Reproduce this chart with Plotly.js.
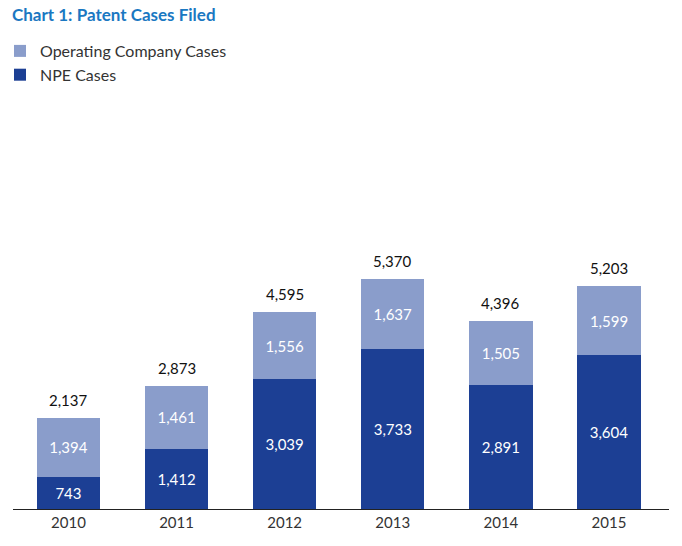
<!DOCTYPE html>
<html>
<head>
<meta charset="utf-8">
<script src="https://cdn.plot.ly/plotly-3.0.1.min.js"></script>
<style>html,body{margin:0;padding:0;background:#fff;}#chart{width:682px;height:546px;}</style>
</head>
<body>
<div id="chart"></div>
<script>
const years = ['2010', '2011', '2012', '2013', '2014', '2015'];
const npeCases = [743, 1412, 3039, 3733, 2891, 3604];
const operatingCases = [1394, 1461, 1556, 1637, 1505, 1599];
const totals = [2137, 2873, 4595, 5370, 4396, 5203];

const fmt = v => v.toLocaleString('en-US');
const FONT = 'Lato, "Open Sans", sans-serif';

const traces = [
  {
    type: 'bar', name: 'NPE Cases', x: years, y: npeCases,
    marker: {color: '#1c3f94'},
    text: npeCases.map(fmt), textposition: 'inside', insidetextanchor: 'middle', textangle: 0,
    textfont: {color: '#ffffff', size: 15, family: FONT},
    hoverinfo: 'skip', width: 0.585
  },
  {
    type: 'bar', name: 'Operating Company Cases', x: years, y: operatingCases,
    marker: {color: '#8a9dcb'},
    text: operatingCases.map(fmt), textposition: 'inside', insidetextanchor: 'middle', textangle: 0,
    textfont: {color: '#ffffff', size: 15, family: FONT},
    hoverinfo: 'skip', width: 0.585
  }
];

// category axis: annotation x given as category index
const annotations = totals.map((t, i) => ({
  x: i, y: t, xref: 'x', yref: 'y',
  text: fmt(t), showarrow: false, yanchor: 'bottom', yshift: 7,
  font: {size: 15, color: '#111111', family: FONT}
}));

const layout = {
  width: 682, height: 546,
  margin: {l: 0, r: 0, t: 38, b: 37},
  paper_bgcolor: '#ffffff', plot_bgcolor: '#ffffff',
  barmode: 'stack',
  showlegend: true,
  font: {family: FONT, color: '#222222'},
  title: {
    text: '<b>Chart 1: Patent Cases Filed</b>',
    x: 12/682, xref: 'container', xanchor: 'left',
    y: 1 - 15/546, yref: 'container', yanchor: 'middle',
    font: {size: 17, color: '#1a78c2', family: FONT}
  },
  legend: {
    x: 0, y: 1.0085, xanchor: 'left', yanchor: 'top',
    traceorder: 'reversed',
    font: {size: 16, color: '#333333', family: FONT},
    itemwidth: 30, tracegroupgap: 0,
    bgcolor: 'rgba(0,0,0,0)'
  },
  xaxis: {
    type: 'category', range: [-0.513, 5.555],
    domain: [13/682, 669/682],
    showgrid: false, zeroline: false,
    showline: true, linecolor: '#222222', linewidth: 1,
    ticks: '', tickfont: {size: 15, color: '#333333', family: FONT},
    fixedrange: true
  },
  yaxis: {
    range: [0, 11005], visible: false, showgrid: false, zeroline: false,
    fixedrange: true
  },
  annotations: annotations
};

Plotly.newPlot('chart', traces, layout, {displayModeBar: false, staticPlot: true});
</script>
</body>
</html>
